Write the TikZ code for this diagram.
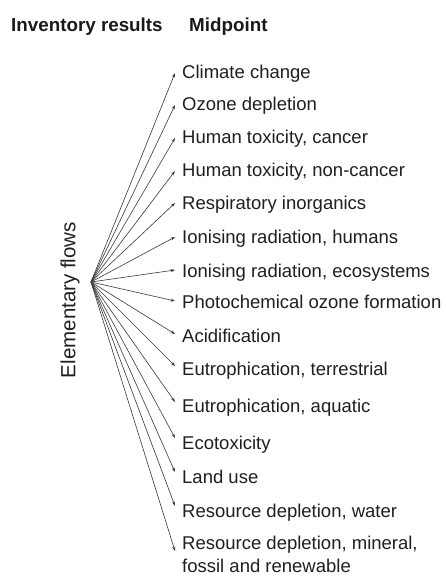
\documentclass[tikz,border=0pt]{standalone}
\usepackage{fontspec}
\setmainfont{Liberation Sans}
\usetikzlibrary{arrows.meta}
\begin{document}
\begin{tikzpicture}[x=1pt,y=-1pt,
  impact/.style={anchor=base west, inner sep=0pt, align=left,
    font=\fontsize{18.5}{22.5}\selectfont, text=black!88},
  head/.style={anchor=base west, inner sep=0pt,
    font=\fontsize{18.8}{22}\selectfont\bfseries, text=black!90},
  side/.style={rotate=90, inner sep=0pt,
    font=\fontsize{20.5}{24}\selectfont, text=black!88},
  flow/.style={draw=black!78, line width=0.6pt,
    -{Stealth[length=4.5pt,width=3pt]}}]
\useasboundingbox (0,0) rectangle (446,576);

% column headings
\node[head] (hinv) at (11,31) {Inventory results};
\node[head] (hmid) at (189,31) {Midpoint};

% vertical label and the point the arrows fan out from
\node[side] (flows) at (70,300) {Elementary flows};
\coordinate (src) at (91,282);

% midpoint categories: index / text / baseline of last line / arrow tip y
\foreach \n/\t/\b/\ty in {
  1/{Climate change}/78/73,
  2/{Ozone depletion}/110/105,
  3/{Human toxicity, cancer}/143/138,
  4/{Human toxicity, non-cancer}/176/171,
  5/{Respiratory inorganics}/209/203,
  6/{Ionising radiation, humans}/243/237,
  7/{Ionising radiation, ecosystems}/277/270,
  8/{Photochemical ozone formation}/308/301,
  9/{Acidification}/342/334,
  10/{Eutrophication, terrestrial}/375/366,
  11/{Eutrophication, aquatic}/412/402,
  12/{Ecotoxicity}/449/438,
  13/{Land use}/483/472,
  14/{Resource depletion, water}/517/506,
  15/{Resource depletion, mineral,\\fossil and renewable}/572/551}
{
  \node[impact] (m\n) at (182,\b) {\t};
  \coordinate (tip\n) at (175,\ty);
  \draw[flow] (src) -- (tip\n);
}
\end{tikzpicture}
\end{document}
